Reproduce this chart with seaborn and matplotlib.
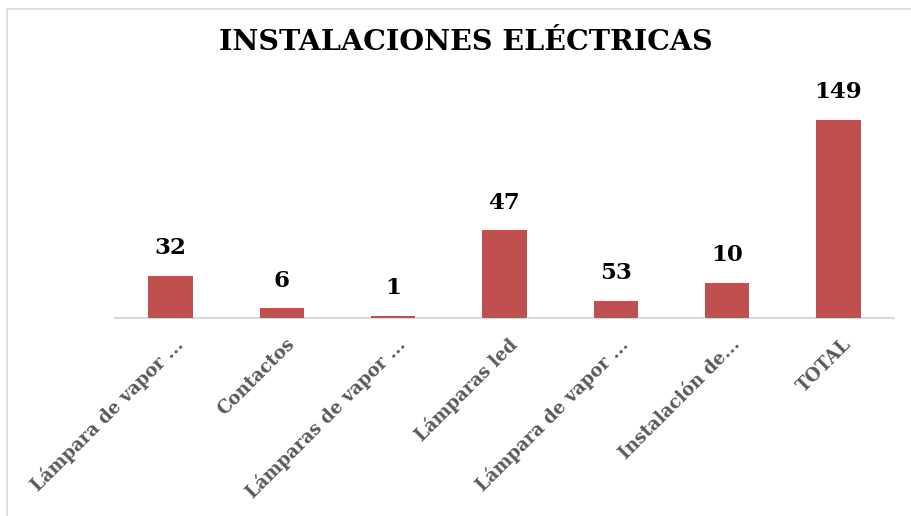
import numpy as np
import pandas as pd
import matplotlib
matplotlib.use("Agg")
import matplotlib.pyplot as plt
import matplotlib.transforms as mtransforms
from matplotlib.patches import Rectangle
import seaborn as sns

# chart data (bar heights, labels as printed)
categories = ["Lámpara de vapor ...", "Contactos", "Lámparas de vapor ...",
              "Lámparas led", "Lámpara de vapor ...", "Instalación de...", "TOTAL"]
bar_heights = [31.5, 7.3, 1.8, 66, 12.8, 26.4, 149]
value_labels = ["32", "6", "1", "47", "53", "10", "149"]
title = "INSTALACIONES ELÉCTRICAS"

bar_color = "#C0504D"
serif = ["DejaVu Serif"]

sns.set_theme(style="white")
plt.rcParams["font.family"] = serif

df = pd.DataFrame({"pos": range(len(categories)), "valor": bar_heights})

fig = plt.figure(figsize=(9.12, 5.16), dpi=100)
ax = fig.add_axes([115 / 912, 1 - 318 / 516, 779 / 912, 218 / 516])

sns.barplot(data=df, x="pos", y="valor", color=bar_color, width=0.4,
            saturation=1, ax=ax, zorder=3, linewidth=0, edgecolor="none")
ax.set_ylim(0, 164)
ax.set_xlim(-0.5, len(categories) - 0.5)

ax.bar_label(ax.containers[0], labels=value_labels, padding=12,
             fontsize=16.5, fontweight="bold", color="black")

ax.set_xticks(range(len(categories)))
ax.set_xticklabels(categories, rotation=45, ha="right", va="center",
                   rotation_mode="anchor", fontsize=13, fontweight="bold",
                   color="#595959")
ax.tick_params(axis="x", length=0, pad=17)
offset = mtransforms.ScaledTranslation(10 / 100, 0, fig.dpi_scale_trans)
for lab in ax.get_xticklabels():
    lab.set_transform(lab.get_transform() + offset)

ax.set_yticks([])
ax.set_xlabel("")
ax.set_ylabel("")
sns.despine(ax=ax, left=True, top=True, right=True)
ax.spines["bottom"].set_color("#d9d9d9")
ax.spines["bottom"].set_linewidth(1.5)
ax.spines["bottom"].set_zorder(1)

fig.text(465.5 / 912, 1 - 43 / 516, title, ha="center", va="center",
         fontsize=20.5, fontweight="bold", color="black")

# outer chart frame (cut off at right/bottom edge)
fig.patches.append(Rectangle((7 / 912, -0.1), 1.2, 1 - 9 / 516 + 0.1,
                             transform=fig.transFigure, fill=False,
                             edgecolor="#d9d9d9", linewidth=1.2))

fig.savefig("out.png", dpi=100)
